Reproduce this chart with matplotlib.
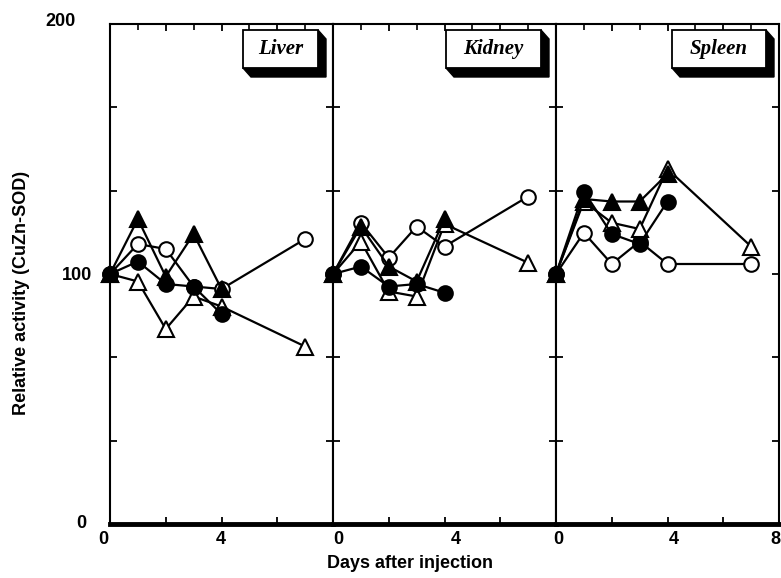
import numpy as np
import matplotlib
matplotlib.use('Agg')
import matplotlib.pyplot as plt
from matplotlib.patches import Polygon, Rectangle
from matplotlib.transforms import ScaledTranslation

organs = ['Liver', 'Kidney', 'Spleen']
days_long = [0, 1, 2, 3, 4, 7]
days_short = [0, 1, 2, 3, 4]

# open circle / filled circle / open triangle / filled triangle, per organ
liver_open_circle = [100, 112, 110, 95, 94, 114]
liver_filled_circle = [100, 105, 96, 95, 84]
liver_open_tri = [100, 97, 78, 91, 87, 71]
liver_filled_tri = [100, 122, 99, 116, 94]

kidney_open_circle = [100, 120.5, 106.5, 119, 111, 131]
kidney_filled_circle = [100, 103, 95, 96, 92.5]
kidney_open_tri = [100, 113, 93, 91, 120, 104.5]
kidney_filled_tri = [100, 119, 103, 97, 122]

spleen_open_circle = [100, 116.5, 104, 113, 104, 104]
spleen_filled_circle = [100, 133, 116, 112, 129]
spleen_open_tri = [100, 129, 120.5, 118, 142, 111]
spleen_filled_tri = [100, 130, 129, 129, 140]

data = {
    'Liver': (liver_open_circle, liver_open_tri, liver_filled_tri, liver_filled_circle),
    'Kidney': (kidney_open_circle, kidney_open_tri, kidney_filled_tri, kidney_filled_circle),
    'Spleen': (spleen_open_circle, spleen_open_tri, spleen_filled_tri, spleen_filled_circle),
}

yticks = list(np.linspace(0, 200, 7))
ytick_labels = ['0', '', '', '100', '', '', '200']
xticks = [0, 2, 4, 6, 8]
xtick_labels = [['0', '', '4', '', ''], ['0', '', '4', '', ''], ['0', '', '4', '', '8']]

sans = 'Liberation Sans'
W, H = 781, 578
fig = plt.figure(figsize=(W / 100, H / 100), dpi=100)

x0 = 110
pw = 223
y_top, y_bot = 24, 524
# label shifts in pixels (the scan has them a bit off the ticks)
xshift = [[-7, 0, -1, 0, 0], [5, 0, 11, 0, 0], [2, 0, 6, 0, -4]]
boxes = [(243, 318), (446, 541), (672, 766)]

for i, organ in enumerate(organs):
    ax = fig.add_axes([(x0 + i * pw) / W, (H - y_bot) / H, pw / W, (y_bot - y_top) / H])
    oc, ot, ft, fc = data[organ]
    kw = dict(color='black', lw=1.6, mec='black', mew=1.5, clip_on=False)
    ax.plot(days_long, oc, marker='o', ms=10.5, mfc='white', zorder=3, **kw)
    ax.plot(days_long, ot, marker='^', ms=11.5, mfc='white', zorder=4, **kw)
    ax.plot(days_short, ft, marker='^', ms=11.5, mfc='black', zorder=5, **kw)
    ax.plot(days_short, fc, marker='o', ms=10.5, mfc='black', zorder=6, **kw)

    ax.set_xlim(0, 8)
    ax.set_ylim(0, 200)
    for s in ['left', 'right', 'top']:
        ax.spines[s].set_linewidth(1.5)
    ax.spines['bottom'].set_linewidth(3.5)

    ax.set_yticks(yticks)
    ax.set_xticks(xticks)
    ax.set_xticks([1, 3, 5, 7], minor=True)
    ax.tick_params(axis='both', which='major', direction='in', length=5, width=1.3,
                   left=True, right=True, top=True, bottom=True)
    ax.tick_params(axis='x', which='minor', direction='in', length=4, width=1.2,
                   top=True, bottom=False)
    ax.set_xticklabels(xtick_labels[i], fontsize=13, fontweight='bold', family=sans)
    ax.tick_params(axis='x', pad=5)
    for lab, dx in zip(ax.get_xticklabels(), xshift[i]):
        lab.set_transform(lab.get_transform() + ScaledTranslation(dx / 100, 0, fig.dpi_scale_trans))
    if i == 0:
        ax.set_yticklabels(ytick_labels, fontsize=13, fontweight='bold', family=sans)
        ax.tick_params(axis='y', pad=13)
        yshift = [(-6, 2), (0, 0), (0, 0), (0, 0), (0, 0), (0, 0), (-16, 4)]
        for lab, (dx, dy) in zip(ax.get_yticklabels(), yshift):
            lab.set_transform(lab.get_transform() + ScaledTranslation(dx / 100, dy / 100, fig.dpi_scale_trans))
    else:
        ax.set_yticklabels([])

    # 3-D looking name plate
    bx0 = (boxes[i][0] - (x0 + i * pw)) / pw
    bx1 = (boxes[i][1] - (x0 + i * pw)) / pw
    by1 = 1 - 6 / 500
    by0 = 1 - 44 / 500
    dx, dy = 8 / pw, 9 / 500
    shadow = Polygon([(bx1, by1), (bx1 + dx, by1 - dy), (bx1 + dx, by0 - dy),
                      (bx0 + dx, by0 - dy), (bx0, by0), (bx1, by0)],
                     closed=True, transform=ax.transAxes, facecolor='black',
                     edgecolor='black', lw=1, zorder=7, clip_on=False)
    ax.add_patch(shadow)
    ax.add_patch(Rectangle((bx0, by0), bx1 - bx0, by1 - by0, transform=ax.transAxes,
                           facecolor='white', edgecolor='black', lw=1.3, zorder=8, clip_on=False))
    ax.text((bx0 + bx1) / 2, (by0 + by1) / 2, organ, transform=ax.transAxes,
            ha='center', va='center', fontsize=15, fontweight='bold', fontstyle='italic',
            family='Liberation Serif', zorder=9)

fig.text(410 / W, 1 - 563 / H, 'Days after injection', ha='center', va='center',
         fontsize=13, fontweight='bold', family=sans)
fig.text(22 / W, 1 - 293 / H, 'Relative activity (CuZn-SOD)', ha='center', va='center',
         rotation=90, fontsize=13, fontweight='bold', family=sans)

fig.savefig('out.png', dpi=100)
